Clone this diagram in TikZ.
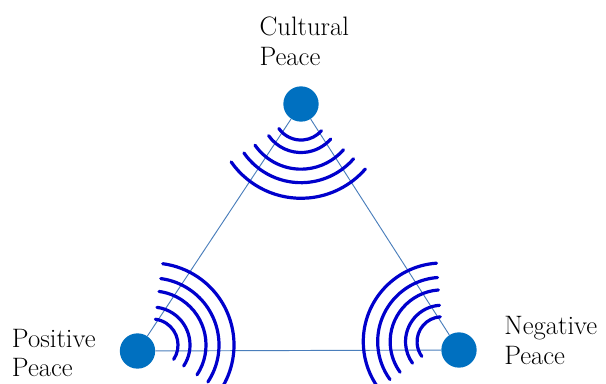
\documentclass[tikz,border=0pt]{standalone}
\usepackage{tikz}
\usetikzlibrary{positioning}
\definecolor{cnode}{HTML}{0070C0}
\definecolor{cside}{HTML}{4A7EBB}
\definecolor{cwave}{HTML}{0000CC}
\tikzset{
  peace/.style={circle, fill=cnode, inner sep=0pt, minimum size=26.5pt},
  side/.style={draw=cside, line width=0.7pt},
  wave/.style={draw=cwave, line width=2.4pt, line cap=round},
  lbl/.style={font=\fontsize{20}{22}\selectfont, align=left, inner sep=0pt, anchor=base west},
}

\begin{document}
\begin{tikzpicture}[x=0.75pt,y=0.75pt]
\useasboundingbox (0,0) rectangle (606,383);
\node[peace] (cul) at (301,279) {};
\node[peace] (pos) at (137.5,32) {};
\node[peace] (neg) at (459,33) {};
\draw[side] (cul) -- (pos);
\draw[side] (cul) -- (neg);
\draw[side] (pos) -- (neg);
\foreach \cx/\cy/\rot/\hw/\sc in {301/270/-93/52/1.04, 152/38/24.5/58/1.0, 442/41.3/155/61/0.96} {
  \foreach \r in {26,38,54,67,82}
    \draw[wave] ([shift={(\rot-\hw:\sc*\r)}]\cx,\cy) arc[start angle=\rot-\hw, end angle=\rot+\hw, radius=\sc*\r];
}
\node[lbl] (culL) at (259.3,318) {Cultural\\Peace};
\node[lbl] (posL) at (11.7,6.3) {Positive\\Peace};
\node[lbl] (negL) at (504,18.7) {Negative\\Peace};
\end{tikzpicture}
\end{document}
